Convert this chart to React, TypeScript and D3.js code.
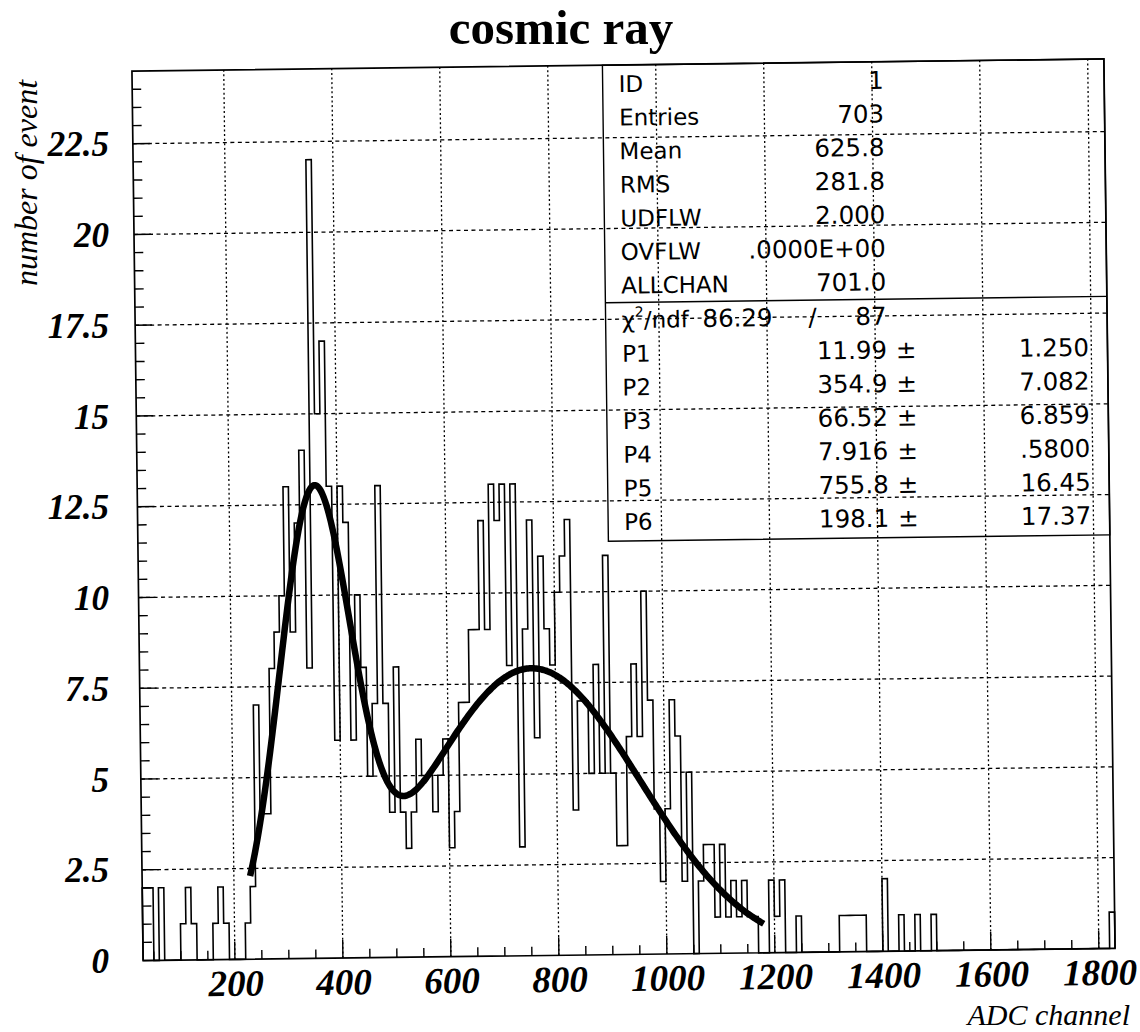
import React from 'react';
import * as d3 from 'd3';

// ---------- data ----------
const binStart = 30;
const binWidth = 10;
const counts = [
  2, 2, 0, 2, 0, 0, 0, 1, 2, 1,
  0, 0, 0, 1, 2, 1, 0, 0, 0, 1,
  2, 7, 4, 4, 8, 9, 10, 13, 9, 12,
  14, 8, 22, 15, 17, 13, 6, 13, 12, 6,
  10, 8, 5, 7, 13, 7, 4, 8, 4, 3,
  4, 6, 5, 5, 4, 5, 6, 3, 4, 7,
  7, 9, 9, 12, 9, 13, 12, 13, 8, 13,
  3, 9, 12, 6, 11, 9, 8, 10, 11, 12,
  4, 7, 7, 5, 8, 5, 11, 5, 3, 3,
  6, 8, 6, 10, 7, 4, 2, 4, 7, 6,
  2, 5, 0, 2, 3, 3, 1, 3, 1, 2,
  1, 2, 1, 1, 0, 0, 2, 1, 2, 0,
  0, 1, 0, 0, 0, 0, 0, 0, 0, 1,
  1, 1, 1, 1, 0, 0, 0, 2, 0, 0,
  1, 0, 0, 1, 0, 0, 1, 0, 0, 0,
  0, 0, 0, 0, 0, 0, 0, 0, 0, 0,
  0, 0, 0, 0, 0, 0, 0, 0, 0, 0,
  0, 0, 0, 0, 0, 0, 0, 0, 0, 1,
];
const fitParams = [11.99, 354.9, 66.52, 7.916, 755.8, 198.1];
const fitRange = [230, 1180];
const yTickValues = [0, 2.5, 5, 7.5, 10, 12.5, 15, 17.5, 20, 22.5];
const yTickLabels = ['0', '2.5', '5', '7.5', '10', '12.5', '15', '17.5', '20', '22.5'];
const xTickValues = [200, 400, 600, 800, 1000, 1200, 1400, 1600, 1800];
const xTickLabels = ['200', '400', '600', '800', '1000', '1200', '1400', '1600', '1800'];
const statNames = ['ID', 'Entries', 'Mean', 'RMS', 'UDFLW', 'OVFLW', 'ALLCHAN'];
const statValues = ['1', '703', '625.8', '281.8', '2.000', '.0000E+00', '701.0'];
const chi2Value = '86.29';
const ndfValue = '87';
const parNames = ['P1', 'P2', 'P3', 'P4', 'P5', 'P6'];
const parValues = ['11.99', '354.9', '66.52', '7.916', '755.8', '198.1'];
const parErrors = ['1.250', '7.082', '6.859', '.5800', '16.45', '17.37'];

// ---------- layout ----------
const W = 1140;
const H = 1032;
const L = 137.5;
const R = 1109.5;
const T = 65;
const B = 954.5;
// the scanned sheet is slightly turned
const TILT = -0.72;
const CX = 623.5;
const CY = 509.75;

const serif = '"Liberation Serif", "Times New Roman", serif';
const sans = '"DejaVu Sans", sans-serif';

export default function App() {
  const x = d3.scaleLinear().domain([binStart, binStart + binWidth * counts.length]).range([L, R]);
  const y = d3.scaleLinear().domain([0, 24.5]).range([B, T]);

  const sinT = Math.sin((TILT * Math.PI) / 180);
  const cosT = Math.cos((TILT * Math.PI) / 180);
  const turnedY = (px: number, py: number) => (px - CX) * sinT + (py - CY) * cosT + CY;

  const pts: [number, number][] = [[binStart, 0]];
  counts.forEach((c, i) => pts.push([binStart + i * binWidth, c]));
  pts.push([binStart + binWidth * counts.length, 0]);
  const histPath = d3
    .line<[number, number]>()
    .x((d) => x(d[0]))
    .y((d) => y(d[1]))
    .curve(d3.curveStepAfter)(pts) as string;

  const [p1, p2, p3, p4, p5, p6] = fitParams;
  const fitFn = (v: number) =>
    p1 * Math.exp(-0.5 * ((v - p2) / p3) ** 2) + p4 * Math.exp(-0.5 * ((v - p5) / p6) ** 2);
  const fitPts: [number, number][] = d3
    .range(fitRange[0], fitRange[1] + 0.001, 2.5)
    .map((v) => [v, fitFn(v)] as [number, number]);
  const fitPath = d3
    .line<[number, number]>()
    .x((d) => x(d[0]))
    .y((d) => y(d[1]))
    .curve(d3.curveMonotoneX)(fitPts) as string;

  const yMinor = d3.range(0.5, 24.01, 0.5).filter((v) => Math.abs(v / 2.5 - Math.round(v / 2.5)) > 1e-6);
  const xMinor = d3.range(50, 1801, 50).filter((v) => v % 200 !== 0);

  const boxL = 608;
  const boxB = 541;
  const divY = 302.5;
  const rowY = (i: number) => 92 + i * 33.6;
  const parY = (i: number) => 361.8 + i * 33.65;

  return (
    <svg
      width={W}
      height={H}
      viewBox={`0 0 ${W} ${H}`}
      style={{ display: 'block', background: '#fff', position: 'absolute', left: 0, top: 0 }}
    >
      <rect x={0} y={0} width={W} height={H} fill="#fff" />
      {/* title */}
      <text x={561} y={44} textAnchor="middle" fontFamily={serif} fontWeight="bold" fontSize={49} fill="#000">
        cosmic ray
      </text>

      <g transform={`rotate(${TILT} ${CX} ${CY})`}>
        {/* grid */}
        <g stroke="#000" strokeWidth={1.3} fill="none">
          {yTickValues
            .filter((v) => v > 0)
            .map((v) => (
              <line key={'gy' + v} x1={L} x2={R} y1={y(v)} y2={y(v)} strokeDasharray="4,3.5" />
            ))}
          {xTickValues.map((v) => (
            <line key={'gx' + v} x1={x(v)} x2={x(v)} y1={B} y2={T} strokeDasharray="2,2.6" />
          ))}
        </g>

        {/* ticks */}
        <g stroke="#000" strokeWidth={1.4}>
          {yTickValues.map((v) => (
            <line key={'ty' + v} x1={L} x2={L + 17} y1={y(v)} y2={y(v)} />
          ))}
          {yMinor.map((v) => (
            <line key={'tym' + v} x1={L} x2={L + 9} y1={y(v)} y2={y(v)} />
          ))}
          {xTickValues.map((v) => (
            <line key={'tx' + v} x1={x(v)} x2={x(v)} y1={B} y2={B - 18} />
          ))}
          {xMinor.map((v) => (
            <line key={'txm' + v} x1={x(v)} x2={x(v)} y1={B} y2={B - 9} />
          ))}
        </g>

        {/* histogram */}
        <path d={histPath} fill="none" stroke="#000" strokeWidth={1.6} />

        {/* fit */}
        <path d={fitPath} fill="none" stroke="#000" strokeWidth={6.5} strokeLinecap="butt" />

        {/* frame */}
        <rect x={L} y={T} width={R - L} height={B - T} fill="none" stroke="#000" strokeWidth={1.7} />

        {/* stats box */}
        <g stroke="#000" strokeWidth={1.4} fill="none">
          <rect x={boxL} y={T} width={R - boxL} height={boxB - T} />
          <line x1={boxL} x2={R} y1={divY} y2={divY} />
        </g>
        <g fontFamily={sans} fill="#000">
          {statNames.map((n, i) => (
            <text key={'sn' + n} x={624} y={rowY(i)} fontSize={23}>
              {n}
            </text>
          ))}
          {statValues.map((v, i) => (
            <text key={'sv' + i} x={889} y={rowY(i)} fontSize={24.5} textAnchor="end">
              {v}
            </text>
          ))}
          <text x={624} y={328} fontSize={23}>
            χ<tspan fontSize={14} dy={-11}>2</tspan>
            <tspan dy={11}>/ndf</tspan>
          </text>
          <text x={775} y={328} fontSize={24.5} textAnchor="end">
            {chi2Value}
          </text>
          <text x={815} y={328} fontSize={24.5} textAnchor="middle">
            /
          </text>
          <text x={889} y={328} fontSize={24.5} textAnchor="end">
            {ndfValue}
          </text>
          {parNames.map((n, i) => (
            <text key={'pn' + n} x={624} y={parY(i)} fontSize={23}>
              {n}
            </text>
          ))}
          {parValues.map((v, i) => (
            <text key={'pv' + i} x={889} y={parY(i)} fontSize={24.5} textAnchor="end">
              {v}
            </text>
          ))}
          {parValues.map((v, i) => (
            <text key={'pm' + i} x={898} y={parY(i)} fontSize={24.5}>
              ±
            </text>
          ))}
          {parErrors.map((v, i) => (
            <text key={'pe' + i} x={1091} y={parY(i)} fontSize={24.5} textAnchor="end">
              {v}
            </text>
          ))}
        </g>

        {/* x tick labels */}
        <g fontFamily={serif} fontWeight="bold" fontStyle="italic" fill="#000">
          {xTickValues.map((v, i) => (
            <text key={'lx' + v} x={x(v) + 1} y={991} textAnchor="middle" fontSize={37}>
              {xTickLabels[i]}
            </text>
          ))}
        </g>
      </g>

      {/* y tick labels */}
      <g fontFamily={serif} fontWeight="bold" fontStyle="italic" fill="#000">
        {yTickValues.map((v, i) => (
          <text key={'ly' + v} x={109} y={turnedY(L, y(v)) + 12.5} textAnchor="end" fontSize={35}>
            {yTickLabels[i]}
          </text>
        ))}
      </g>
      <text x={1130} y={1025} textAnchor="end" fontFamily={serif} fontStyle="italic" fontSize={30} fill="#000">
        ADC channel
      </text>
      <text
        transform={`translate(37,183) rotate(-90)`}
        textAnchor="middle"
        fontFamily={serif}
        fontStyle="italic"
        fontSize={32}
        fill="#000"
      >
        number of event
      </text>
    </svg>
  );
}
